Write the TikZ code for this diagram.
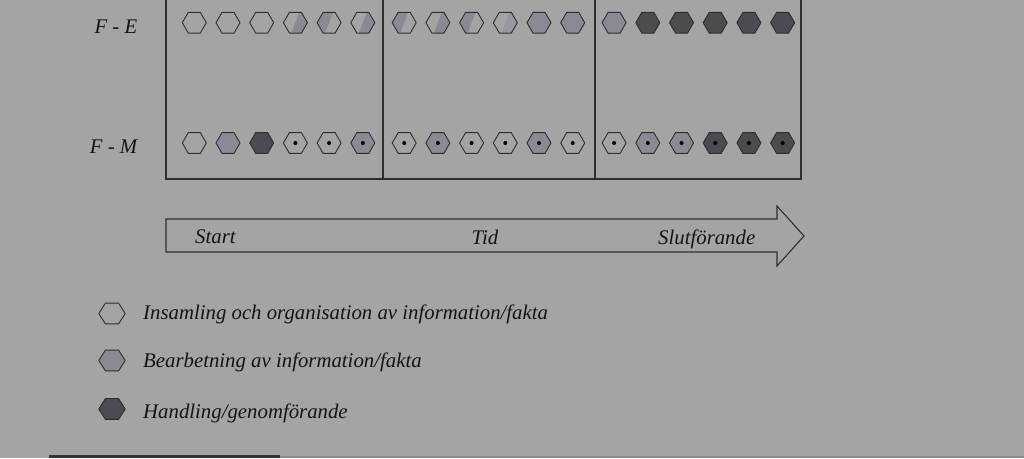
\documentclass[tikz,border=0pt]{standalone}
\usepackage{fontspec}
\setmainfont{Liberation Serif}
\usetikzlibrary{shapes.geometric}
\definecolor{bgC}{HTML}{A4A4A4}
\definecolor{lineC}{HTML}{2E2E2E}
\definecolor{midC}{HTML}{8A8A94}
\definecolor{lightC}{HTML}{9797A0}
\definecolor{darkC}{HTML}{4B4B50}
\definecolor{textC}{HTML}{141414}
\tikzset{
  hexa/.style={regular polygon, regular polygon sides=6,
    minimum size=24pt, inner sep=0pt, outer sep=0pt, draw=lineC, line width=0.9pt},
  he/.style={hexa},
  hm/.style={hexa, fill=midC},
  hd/.style={hexa, fill=darkC},
  hr/.style={hexa, path picture={\fill[midC] ([shift={(4.6pt,12pt)}]path picture bounding box.center)
      -- ++(20pt,0pt) -- ++(0pt,-24pt) -- ++(-29.2pt,0pt) -- cycle;}},
  hrl/.style={hexa, path picture={\fill[lightC] ([shift={(4.6pt,12pt)}]path picture bounding box.center)
      -- ++(20pt,0pt) -- ++(0pt,-24pt) -- ++(-29.2pt,0pt) -- cycle;}},
  hl/.style={hexa, path picture={\fill[midC] ([shift={(4.6pt,12pt)}]path picture bounding box.center)
      -- ++(-30pt,0pt) -- ++(0pt,-24pt) -- ++(20.8pt,0pt) -- cycle;}},
  dotted hex/.style={path picture={\fill[black] (path picture bounding box.center) circle (2pt);}},
  heD/.style={he, dotted hex},
  hmD/.style={hm, dotted hex},
  hdD/.style={hd, dotted hex},
  leghex/.style={minimum size=24pt, xscale=1.1, transform shape},
  lab/.style={text=textC, font=\fontsize{20.8}{24}\selectfont\itshape, inner sep=0pt},
  frame/.style={draw=lineC, line width=1.1pt},
}
\begin{document}
\begin{tikzpicture}[x=1pt,y=-1pt]
\useasboundingbox (0,0) rectangle (1024,458);
\fill[bgC] (0,0) rectangle (1024,458);
% frame
\draw[frame] (166,-5) -- (166,179) -- (801,179) -- (801,-5);
\draw[frame] (383,-5) -- (383,179);
\draw[frame] (595,-5) -- (595,179);
% row labels
\node[lab, anchor=base east] (fe) at (137.5,33.3) {F - E};
\node[lab, anchor=base east] (fm) at (137.5,153) {F - M};
% top row
\foreach \st [count=\i] in {he,he,he,hr,hl,hr,hl,hr,hl,hrl,hm,hm,hm,hd,hd,hd,hd,hd}{
  \pgfmathsetmacro\xx{194.3+33.7*(\i-1)+7.7*floor((\i-1)/6)}
  \node[\st] (t\i) at (\xx,22.7) {};
}
% bottom row
\foreach \st [count=\i] in {he,hm,hd,heD,heD,hmD,heD,hmD,heD,heD,hmD,heD,heD,hmD,hmD,hdD,hdD,hdD}{
  \pgfmathsetmacro\xx{194.3+33.7*(\i-1)+7.7*floor((\i-1)/6)}
  \node[\st] (b\i) at (\xx,143) {};
}
% time arrow
\draw[lineC, line width=1.1pt, line join=miter]
  (166,219) -- (777,219) -- (777,206) -- (804,236) -- (777,266) -- (777,252) -- (166,252) -- cycle;
\node[lab, anchor=base west] (start) at (195,243.3) {Start};
\node[lab, anchor=base] (tid) at (485,244) {Tid};
\node[lab, anchor=base west] (slut) at (658,244.5) {Slutförande};
% legend
\node[he, leghex] (l1) at (112,313.5) {};
\node[hm, leghex] (l2) at (112,360.5) {};
\node[hd, leghex] (l3) at (112,409) {};
\node[lab, anchor=base west] (lt1) at (143,319.3) {Insamling och organisation av information/fakta};
\node[lab, anchor=base west] (lt2) at (143,367.7) {Bearbetning av information/fakta};
\node[lab, anchor=base west] (lt3) at (143,418) {Handling/genomförande};
% bottom edge line
\fill[black!80] (49,454.5) rectangle (280,458);
\fill[black!45] (280,455.5) rectangle (1024,458);
\end{tikzpicture}
\end{document}
